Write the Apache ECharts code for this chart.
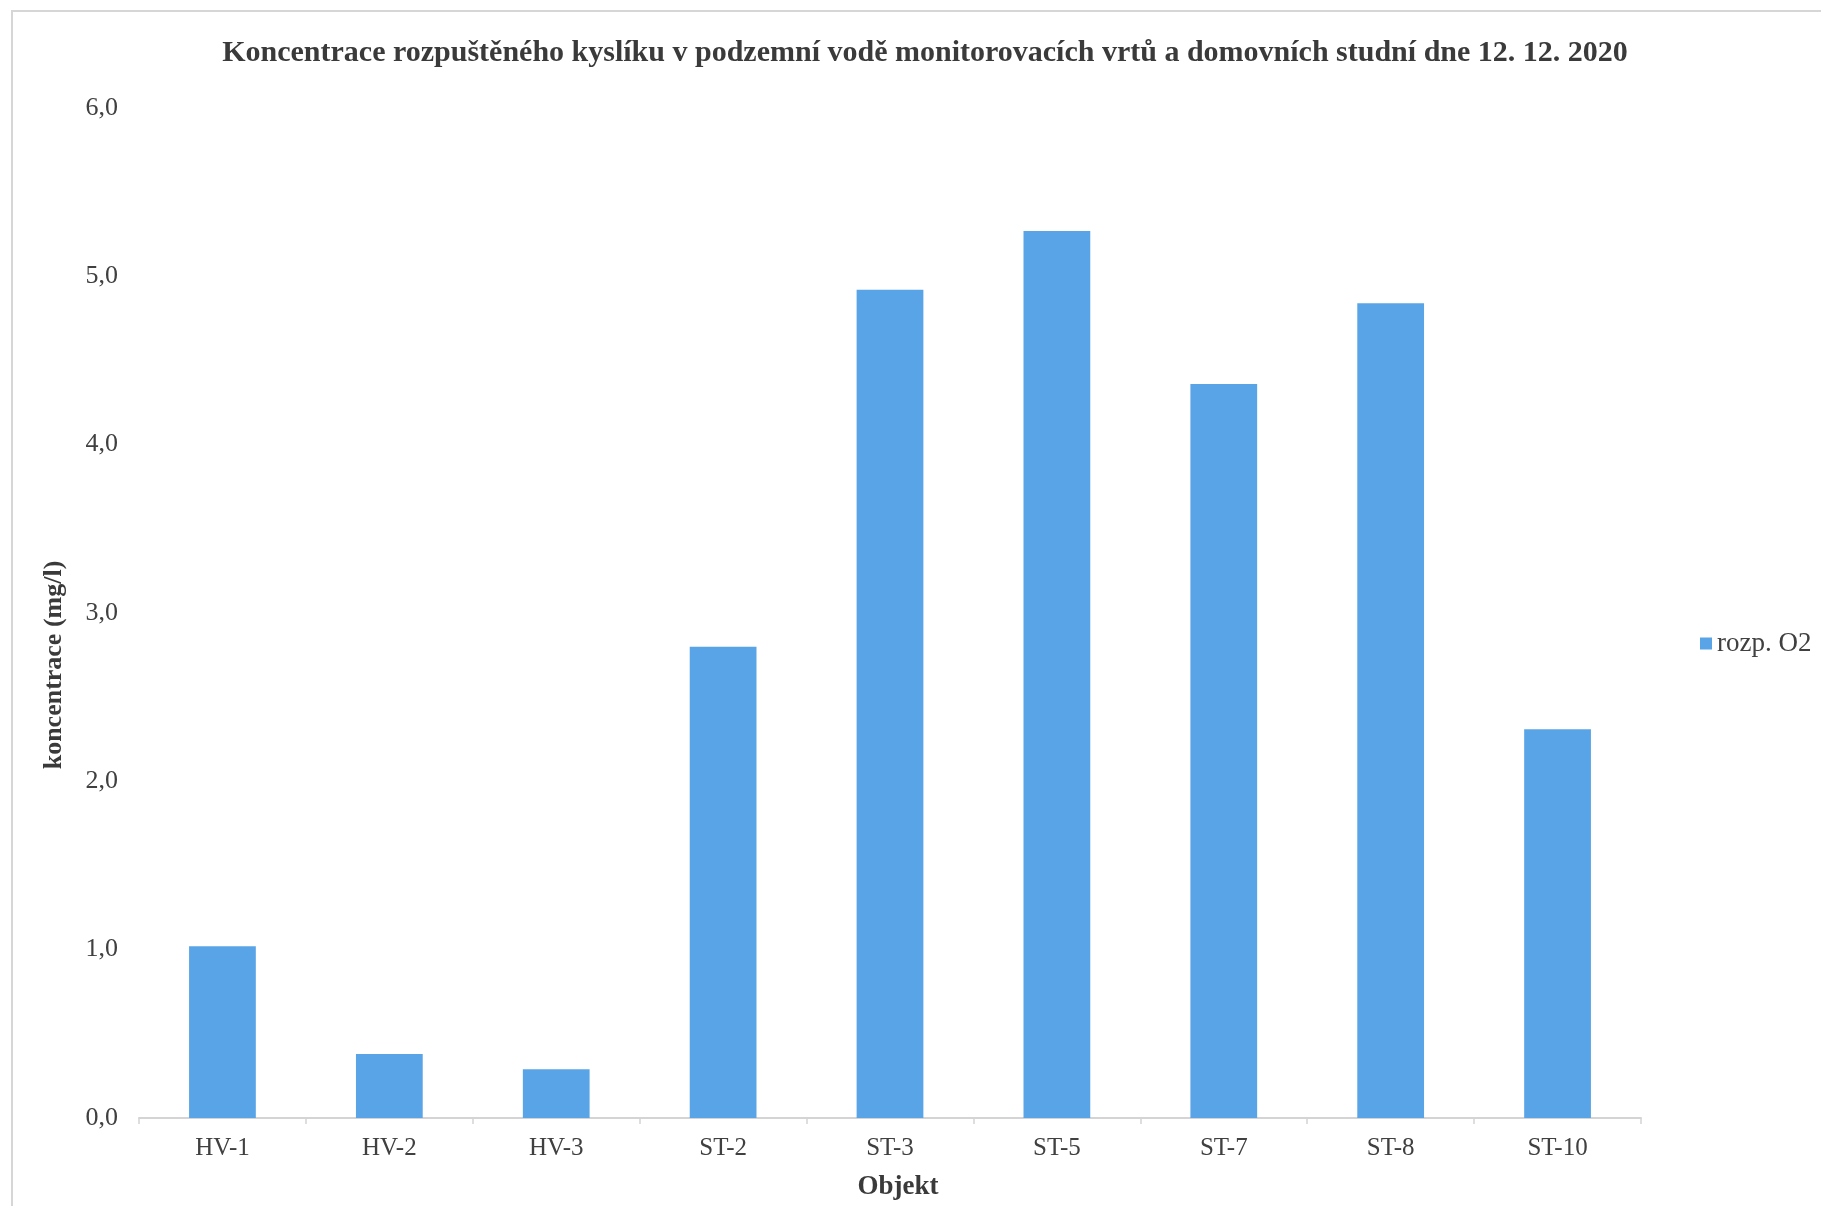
<!DOCTYPE html>
<html>
<head>
<meta charset="utf-8">
<title>Koncentrace rozpuštěného kyslíku</title>
<script src="https://cdn.jsdelivr.net/npm/echarts@6/dist/echarts.min.js"></script>
<style>
  html, body { margin: 0; padding: 0; background: #ffffff; }
  #chart { width: 1821px; height: 1206px; }
</style>
</head>
<body>
<div id="chart"></div>
<script>
// Monitoring wells and household wells
const objekty = ['HV-1', 'HV-2', 'HV-3', 'ST-2', 'ST-3', 'ST-5', 'ST-7', 'ST-8', 'ST-10'];
// Dissolved oxygen, mg/l
const rozpO2 = [1.02, 0.38, 0.29, 2.80, 4.92, 5.27, 4.36, 4.84, 2.31];
const yTicks = { min: 0, max: 6, interval: 1 };

const serif = '"Liberation Serif", "DejaVu Serif", "Times New Roman", serif';
const chart = echarts.init(document.getElementById('chart'), null, { renderer: 'canvas' });

chart.setOption({
  backgroundColor: '#ffffff',
  animation: false,
  graphic: [{
    type: 'rect',
    shape: { x: 12, y: 11, width: 1840, height: 1240 },
    style: { fill: 'none', stroke: '#d6d6d6', lineWidth: 2 },
    silent: true
  }],
  title: {
    text: 'Koncentrace rozpuštěného kyslíku v podzemní vodě monitorovacích vrtů a domovních studní dne 12. 12. 2020',
    left: 920,
    textAlign: 'center',
    top: 33,
    textStyle: { fontFamily: serif, fontWeight: 'bold', fontSize: 30, color: '#3a3a3a' }
  },
  legend: {
    data: ['rozp. O2'],
    orient: 'vertical',
    left: 1695,
    top: 625,
    itemWidth: 12,
    itemHeight: 12,
    itemGap: 8,
    icon: 'rect',
    textStyle: { fontFamily: serif, fontSize: 27, color: '#404040' }
  },
  grid: { left: 139, right: 180, top: 108, bottom: 86, containLabel: false },
  xAxis: {
    type: 'category',
    data: objekty,
    name: 'Objekt',
    nameLocation: 'middle',
    nameGap: 56,
    nameTextStyle: { fontFamily: serif, fontWeight: 'bold', fontSize: 27, color: '#3a3a3a', padding: [0, 0, 0, 16] },
    axisLine: { lineStyle: { color: '#d4d4d4', width: 2 } },
    axisTick: { show: true, alignWithLabel: false, length: 6, lineStyle: { color: '#d4d4d4', width: 1.5 } },
    axisLabel: { fontFamily: serif, fontSize: 25, color: '#404040', margin: 18 }
  },
  yAxis: {
    type: 'value',
    min: yTicks.min,
    max: yTicks.max,
    interval: yTicks.interval,
    name: 'koncentrace (mg/l)',
    nameLocation: 'middle',
    nameGap: 72,
    nameRotate: 90,
    nameTextStyle: { fontFamily: serif, fontWeight: 'bold', fontSize: 26, color: '#3a3a3a', padding: [0, 104, 0, 0] },
    axisLine: { show: false },
    axisTick: { show: false },
    splitLine: { show: false },
    axisLabel: {
      fontFamily: serif, fontSize: 26, color: '#404040', margin: 21,
      formatter: v => v.toFixed(1).replace('.', ',')
    }
  },
  series: [{
    name: 'rozp. O2',
    type: 'bar',
    data: rozpO2,
    barWidth: '40%',
    itemStyle: { color: '#58a4e6' }
  }]
});
</script>
</body>
</html>
